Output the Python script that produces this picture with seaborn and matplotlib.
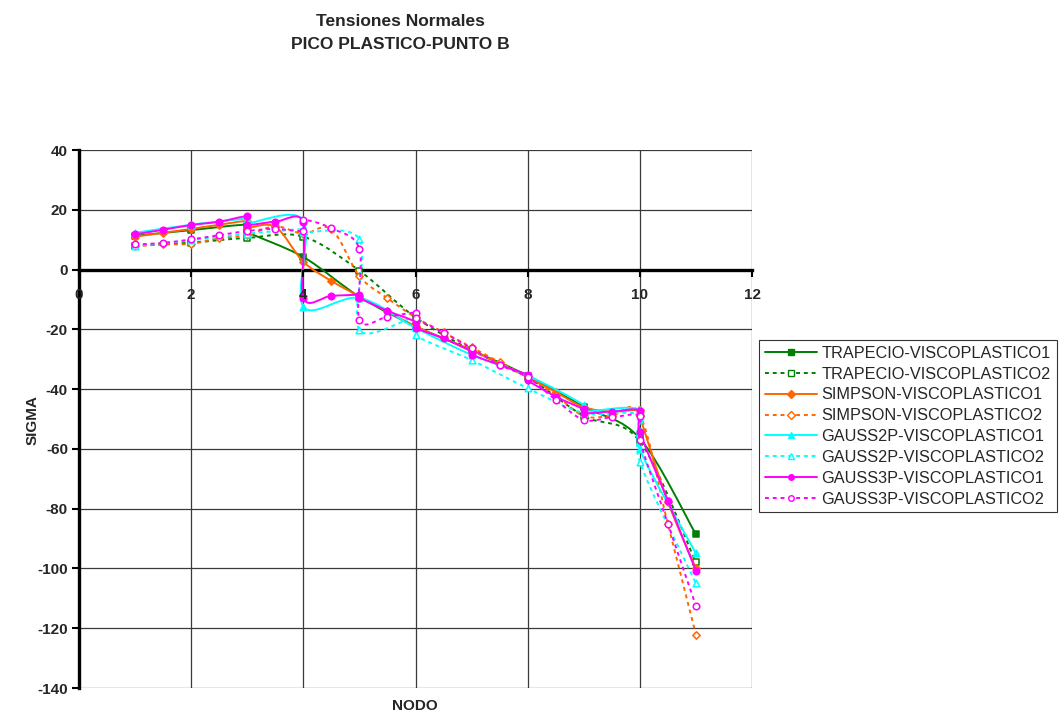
import numpy as np
import pandas as pd
import matplotlib
matplotlib.use('Agg')
import matplotlib.pyplot as plt
from matplotlib.path import Path
from matplotlib.patches import PathPatch
from matplotlib.lines import Line2D
import seaborn as sns

sns.set_theme(style='white')
plt.rcParams['font.family'] = ['Liberation Sans', 'DejaVu Sans']
plt.rcParams['axes.unicode_minus'] = False

# ---------- datos ----------
trap1_x = [1, 2, 3, 3, 4, 5, 6, 7, 8, 9, 10, 11]
trap1_y = [11.3, 13.2, 15.0, 12.6, 4.2, -9.1, -19.0, -27.0, -35.5, -45.9, -56.5, -88.6]

trap2_x = [1, 2, 3, 4, 5, 6, 7, 8, 9, 10, 11]
trap2_y = [8.0, 9.0, 10.6, 11.0, -0.4, -16.0, -27.0, -36.0, -49.0, -57.5, -98.0]

simp1_x = [1, 1.5, 2, 2.5, 3, 3, 3.5, 4, 4.5, 5, 5.5, 6, 6.5, 7, 7.5, 8, 8.5, 9, 9.5, 10,
           10, 10.5, 11]
simp1_y = [11.0, 12.3, 13.6, 15.0, 16.2, 14.0, 14.3, 2.6, -3.8, -9.0, -14.0, -19.0, -23.0,
           -27.0, -31.5, -36.0, -41.0, -46.0, -47.5, -47.0, -49.0, -77.7, -100.0]

simp2_x = [1, 1.5, 2, 2.5, 3, 3.5, 4, 4.5, 5, 5.5, 6, 6.5, 7, 7.5, 8, 8.5, 9, 9.5, 10, 10.5, 11]
simp2_y = [7.8, 8.4, 8.6, 10.5, 11.5, 14.5, 12.0, 13.5, -2.2, -9.6, -16.0, -21.0, -26.0,
           -31.0, -36.0, -42.0, -49.0, -49.0, -48.5, -85.1, -122.2]

g2p1_x = [1, 2, 3, 3, 4, 4, 5, 6, 7, 8, 9, 9, 10, 10, 11]
g2p1_y = [12.3, 15.0, 17.0, 15.5, 16.5, -12.4, -9.5, -19.5, -28.5, -35.5, -45.3, -47.5,
          -47.0, -60.1, -94.9]

g2p2_x = [1, 2, 3, 4, 4, 5, 5, 6, 6, 7, 8, 9, 10, 10, 11]
g2p2_y = [8.0, 9.8, 12.0, 13.5, 12.5, 10.1, -20.2, -16.0, -21.9, -30.3, -39.7, -48.0,
          -49.0, -64.3, -105.0]

g3p1_x = [1, 1.5, 2, 2.5, 3, 3, 3.5, 4, 4, 4.5, 5, 5, 5.5, 6, 6, 6.5, 7, 7, 7.5, 8, 8,
          8.5, 9, 9, 9.5, 10, 10, 10.5, 11]
g3p1_y = [11.8, 13.3, 14.9, 16.0, 17.8, 15.0, 16.0, 15.8, -9.5, -8.8, -8.5, -9.5, -13.8,
          -17.5, -19.5, -23.0, -27.5, -28.5, -31.9, -35.3, -37.0, -42.5, -46.8, -48.1,
          -47.5, -47.2, -54.2, -77.3, -100.8]

g3p2_x = [1, 1.5, 2, 2.5, 3, 3.5, 4, 4, 4.5, 5, 5, 5.5, 6, 6, 6.5, 7, 7.5, 8, 8.5, 9,
          9.5, 10, 10, 10.5, 11]
g3p2_y = [8.4, 8.9, 10.1, 11.5, 12.9, 13.6, 13.0, 16.6, 13.8, 6.9, -16.9, -15.8, -14.4,
          -16.3, -21.1, -26.4, -31.9, -36.0, -43.6, -50.3, -49.4, -49.0, -57.0, -85.0,
          -112.5]

nombres = ['TRAPECIO-VISCOPLASTICO1', 'TRAPECIO-VISCOPLASTICO2',
           'SIMPSON-VISCOPLASTICO1', 'SIMPSON-VISCOPLASTICO2',
           'GAUSS2P-VISCOPLASTICO1', 'GAUSS2P-VISCOPLASTICO2',
           'GAUSS3P-VISCOPLASTICO1', 'GAUSS3P-VISCOPLASTICO2']
xs_all = [trap1_x, trap2_x, simp1_x, simp2_x, g2p1_x, g2p2_x, g3p1_x, g3p2_x]
ys_all = [trap1_y, trap2_y, simp1_y, simp2_y, g2p1_y, g2p2_y, g3p1_y, g3p2_y]
colores = ['#008000', '#008000', '#FF6600', '#FF6600',
           '#00FFFF', '#00FFFF', '#FF00FF', '#FF00FF']
marcadores = ['s', 's', 'D', 'D', '^', '^', 'o', 'o']
llenos = [True, False, True, False, True, False, True, False]
PUNTEADO = (0, (2, 2))
x_ticks = np.arange(0, 13, 2)
y_ticks = np.arange(-140, 41, 20)


def curva_suave(x, y):
    # linea suavizada estilo Excel (Bezier cubica entre puntos)
    P = np.column_stack([x, y]).astype(float)
    verts = [P[0]]
    codes = [Path.MOVETO]
    for i in range(len(P) - 1):
        p0 = P[i - 1] if i > 0 else P[i]
        p1, p2 = P[i], P[i + 1]
        p3 = P[i + 2] if i + 2 < len(P) else P[i + 1]
        verts += [p1 + (p2 - p0) / 6, p2 - (p3 - p1) / 6, p2]
        codes += [Path.CURVE4] * 3
    return Path(verts, codes)


fig = plt.figure(figsize=(10.64, 7.16), dpi=100)
ax = fig.add_axes([79 / 1064, 1 - 688 / 716, (752 - 79) / 1064, (688 - 150) / 716])

# rejilla dibujada a mano para que las etiquetas de los ejes queden encima
for xv in x_ticks[1:]:
    ax.axvline(xv, color='#3a3a3a', lw=0.9, zorder=1)
for yv in y_ticks:
    ax.axhline(yv, color='#3a3a3a', lw=0.9, zorder=1)

handles = []
for i, nom in enumerate(nombres):
    ls = '-' if llenos[i] else PUNTEADO
    patch = PathPatch(curva_suave(xs_all[i], ys_all[i]), fill=False,
                      edgecolor=colores[i], lw=1.4, linestyle=ls,
                      capstyle='butt', zorder=3 + i)
    ax.add_patch(patch)
    df = pd.DataFrame({'x': xs_all[i], 'y': ys_all[i]})
    sns.scatterplot(data=df, x='x', y='y', ax=ax, marker=marcadores[i],
                    s=22 if marcadores[i] != 'D' else 14,
                    facecolor=colores[i] if llenos[i] else 'white',
                    edgecolor=colores[i], linewidth=1.1, zorder=3.5 + i,
                    legend=False)
    handles.append(Line2D([0], [0], color=colores[i], lw=1.4, linestyle=ls,
                          marker=marcadores[i], markersize=4,
                          markerfacecolor=colores[i] if llenos[i] else 'white',
                          markeredgecolor=colores[i], label=nom))

ax.set_xlim(0, 12)
ax.set_ylim(-140, 40)
ax.set_xticks(x_ticks)
ax.set_yticks(y_ticks)
ax.grid(False)

for s in ['top', 'right']:
    ax.spines[s].set_visible(False)
ax.spines['bottom'].set_position(('data', 0))
ax.spines['bottom'].set_linewidth(2.4)
ax.spines['bottom'].set_color('black')
ax.spines['bottom'].set_zorder(2.5)
ax.spines['left'].set_linewidth(2.4)
ax.spines['left'].set_color('black')
ax.xaxis.set_zorder(30)
ax.yaxis.set_zorder(30)

ax.tick_params(axis='both', which='major', direction='out', length=5, width=1.5,
               color='black', labelsize=11)
ax.tick_params(axis='x', pad=8)
ax.tick_params(axis='y', pad=3)
ax.tick_params(bottom=True, left=True)
for lab in ax.get_xticklabels() + ax.get_yticklabels():
    lab.set_fontweight('bold')

ax.set_xlabel('')
ax.set_ylabel('')
fig.text(415 / 1064, 1 - 706 / 716, 'NODO', ha='center', va='center',
         fontsize=11, fontweight='bold')
fig.text(33 / 1064, 1 - 420 / 716, 'SIGMA', ha='center', va='center',
         rotation=90, fontsize=11, fontweight='bold')
fig.text(400 / 1064, 1 - 33 / 716, 'Tensiones Normales\nPICO PLASTICO-PUNTO B',
         ha='center', va='center', fontsize=12.5, fontweight='bold', linespacing=1.6)

leg = fig.legend(handles=handles, loc='upper left',
                 bbox_to_anchor=(759 / 1064, 1 - 340 / 716), fontsize=11.7,
                 frameon=True, fancybox=False, handlelength=3.2, handletextpad=0.3,
                 borderpad=0.35, labelspacing=0.36, borderaxespad=0)
leg.get_frame().set_edgecolor('black')
leg.get_frame().set_linewidth(0.8)

fig.savefig('out.png', dpi=100)
